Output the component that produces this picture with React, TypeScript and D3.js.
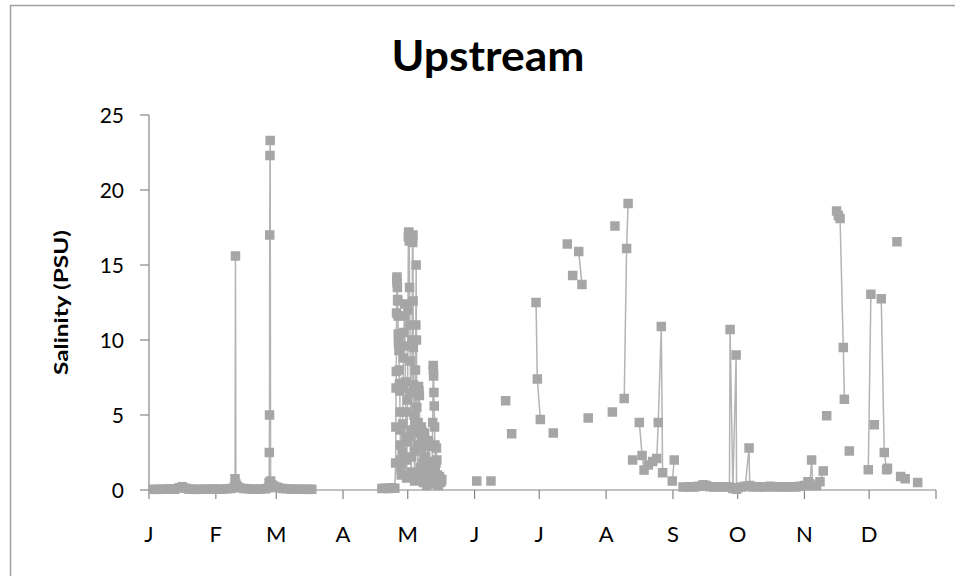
import React from "react";
import * as d3 from "d3";

// day-of-year (fractional) and salinity readings, one array per connected run
const janMarRun = [
  [2, 0.05], [4, 0.04], [6, 0.06], [8, 0.05], [10, 0.08], [12, 0.05], [14, 0.15], [15.5, 0.22],
  [17, 0.12], [18.5, 0.06], [20, 0.05], [22, 0.04], [24, 0.05], [26, 0.06], [28, 0.05], [30, 0.07],
  [32, 0.05], [34, 0.06], [36, 0.08], [38, 0.1], [39.6, 0.2], [39.9, 0.75], [40.1, 15.6], [40.3, 0.4],
  [41, 0.25], [42, 0.15], [44, 0.1], [46, 0.08], [48, 0.06], [50, 0.05], [52, 0.07], [54, 0.08],
  [55.4, 0.15], [55.7, 0.5], [55.8, 2.5], [55.9, 5.0], [56.0, 17.0], [56.1, 22.3], [56.2, 23.3],
  [56.4, 0.6], [57, 0.35], [58, 0.25], [59, 0.2], [60, 0.15], [62, 0.1], [64, 0.08], [66, 0.06],
  [68, 0.05], [70, 0.06], [72, 0.05], [74, 0.04], [75.5, 0.05],
];

const aprMayRun = [
  [108, 0.1], [109.5, 0.12], [111, 0.1], [112.5, 0.15], [114, 0.12],
  [114.4, 1.8], [114.5, 4.2], [114.6, 6.8], [114.7, 7.9], [114.8, 11.8], [114.9, 14.0], [115.0, 14.2],
  [115.1, 13.8], [115.2, 13.5], [115.3, 12.7], [115.4, 12.6], [115.5, 11.6], [115.6, 10.4], [115.7, 9.8],
  [115.8, 9.9], [115.9, 9.3], [116.0, 8.0], [116.1, 6.9], [116.2, 7.1], [116.3, 6.6], [116.4, 5.2],
  [116.5, 4.0], [116.6, 3.0], [116.7, 2.0], [116.85, 1.4], [117.0, 1.0], [117.2, 1.8], [117.4, 2.5],
  [117.6, 4.4], [117.8, 6.8], [118.0, 8.8], [118.2, 10.5], [118.4, 11.6], [118.6, 12.4], [118.75, 9.6],
  [118.9, 7.2], [119.05, 5.2], [119.2, 3.5], [119.35, 2.0], [119.5, 0.8], [119.7, 3.2], [119.9, 6.0],
  [120.1, 12.0], [120.3, 16.9], [120.4, 17.1], [120.5, 17.2], [120.6, 16.9], [120.7, 16.6],
  [120.85, 13.5], [121.0, 11.0], [121.15, 8.6], [121.3, 6.5], [121.45, 3.6], [121.6, 1.2], [121.75, 2.2],
  [121.9, 4.0], [122.05, 10.0], [122.2, 16.8], [122.3, 16.5], [122.4, 17.0], [122.5, 12.6], [122.6, 9.5],
  [122.75, 7.0], [122.9, 5.0], [123.05, 2.6], [123.2, 0.6], [123.4, 4.4], [123.6, 8.0], [123.75, 11.0],
  [123.9, 15.0], [124.05, 10.0], [124.2, 5.5], [124.4, 3.0], [124.6, 1.0], [124.8, 4.5], [125.0, 6.9],
  [125.2, 6.6], [125.4, 6.3], [125.6, 3.8], [125.8, 1.5], [126.05, 2.8], [126.3, 4.2], [126.55, 3.9],
  [126.8, 3.4], [127.05, 1.8], [127.3, 0.5], [127.55, 2.2], [127.8, 3.8], [128.05, 3.0], [128.3, 2.2],
  [128.55, 1.0], [128.8, 0.3], [129.05, 1.6], [129.3, 2.9], [129.55, 3.3], [129.8, 3.1], [130.05, 1.9],
  [130.3, 0.8], [130.55, 1.2], [130.8, 1.8], [131.05, 1.0], [131.3, 0.4], [131.55, 4.5], [131.8, 8.3],
  [131.9, 8.0], [132.0, 7.6], [132.15, 6.5], [132.3, 5.6], [132.45, 4.2], [132.6, 3.0], [132.75, 1.6],
  [132.9, 0.6], [133.1, 1.8], [133.3, 2.8], [133.5, 2.0], [133.7, 1.0], [133.95, 0.6], [134.2, 0.3],
  [134.45, 0.6], [134.7, 0.9], [134.95, 0.7], [135.2, 0.5], [135.5, 0.6], [135.8, 0.7],
];

const julyRun = [[179.5, 12.5], [180.1, 7.4], [181.5, 4.7]];
const lateJulyRun = [[199.3, 15.9], [200.8, 13.7]];
const earlyAugRun = [[220.4, 6.1], [221.5, 16.1], [222.2, 19.1]];
const midAugRun = [
  [227.4, 4.5], [228.7, 2.3], [229.6, 1.33], [231.6, 1.67], [233.6, 1.9], [235.5, 2.1],
  [236.2, 4.5], [237.6, 10.9], [238.2, 1.15],
];
const lateAugRun = [[242.7, 0.6], [243.6, 2.0]];

const sepOctRun = [
  [247.7, 0.2], [249.5, 0.2], [251, 0.22], [253, 0.2], [255, 0.25], [257, 0.35], [258.5, 0.3],
  [260, 0.22], [262, 0.2], [264, 0.2], [266, 0.22], [268, 0.2], [269.2, 0.2], [269.5, 10.7],
  [270.8, 0.1], [272.3, 9.0], [272.5, 0.05], [273.2, 0.15],
];
const octNovRun = [
  [275, 0.2], [276.5, 0.25], [278.3, 2.8], [278.6, 0.3], [280, 0.2], [282, 0.22], [284, 0.2],
  [286, 0.2], [288, 0.25], [290, 0.2], [292, 0.22], [294, 0.2], [296, 0.2], [298, 0.22],
  [300, 0.2], [302, 0.25], [304, 0.3], [305.6, 0.55], [306.5, 0.4], [307.3, 2.0], [307.9, 0.3],
  [309.6, 0.3], [311.2, 0.55], [312.7, 1.27],
];
const novRun = [[318.9, 18.6], [319.7, 18.3], [320.5, 18.1], [322.0, 9.5], [322.5, 6.05]];
const dec1Run = [[333.6, 1.35], [334.8, 13.05]];
const dec2Run = [[339.6, 12.75], [341.0, 2.5], [342.1, 1.35], [342.5, 1.45]];
const dec3Run = [[348.6, 0.9], [350.7, 0.75]];

// readings with no neighbour on either side
const singleReadings = [
  [152.0, 0.6], [158.6, 0.6], [165.4, 5.95], [168.2, 3.75], [187.5, 3.8], [194.0, 16.4],
  [196.5, 14.3], [203.7, 4.8], [214.9, 5.2], [216.1, 17.6], [224.3, 2.0], [314.3, 4.95],
  [324.8, 2.6], [336.4, 4.35], [346.9, 16.55], [356.5, 0.5],
];

const yTicks = [0, 5, 10, 15, 20, 25];
const monthLetters = ["J", "F", "M", "A", "M", "J", "J", "A", "S", "O", "N", "D"];

const runs = [
  janMarRun, aprMayRun, julyRun, lateJulyRun, earlyAugRun, midAugRun, lateAugRun,
  sepOctRun, octNovRun, novRun, dec1Run, dec2Run, dec3Run,
  ...singleReadings.map((p) => [p]),
];

const yearStart = new Date(2009, 0, 1);
const yearEnd = new Date(2010, 0, 1);
const toDate = (doy: number) => new Date(yearStart.getTime() + doy * 864e5);

const font = "Lato, 'Open Sans', sans-serif";

export default function App() {
  const x = d3.scaleTime().domain([yearStart, yearEnd]).range([149, 936]);
  const y = d3.scaleLinear().domain([0, 25]).range([490, 115]);

  const line = d3
    .line<number[]>()
    .x((d) => x(toDate(d[0])))
    .y((d) => y(d[1]));

  const months = d3.timeMonth.range(yearStart, d3.timeDay.offset(yearEnd, 1));
  const axisColor = "#868686";
  const m = 9.5; // marker size

  return (
    <svg width={955} height={576} style={{ position: "absolute", left: 0, top: 0, background: "#fff" }}>
      <rect x={10.5} y={5.5} width={960} height={600} fill="#fff" stroke="#a0a0a0" strokeWidth={1.5} />

      <text x={488} y={71} textAnchor="middle" fontFamily={font} fontWeight="bold" fontSize={42}
        textLength={193} lengthAdjust="spacingAndGlyphs" fill="#000">
        Upstream
      </text>

      <text transform={`translate(68,${(y(0) + y(25)) / 2}) rotate(-90)`} textAnchor="middle"
        fontFamily={font} fontWeight="bold" fontSize={18} textLength={145} lengthAdjust="spacingAndGlyphs" fill="#000">
        Salinity (PSU)
      </text>

      {/* y axis */}
      <line x1={149} x2={149} y1={y(25)} y2={y(0)} stroke={axisColor} strokeWidth={1.2} />
      {yTicks.map((t) => (
        <g key={t}>
          <line x1={140} x2={149} y1={y(t)} y2={y(t)} stroke={axisColor} strokeWidth={1.2} />
          <text x={124} y={y(t) + 7.5} textAnchor="end" fontFamily={font} fontSize={21} fill="#000">
            {t}
          </text>
        </g>
      ))}

      {/* x axis */}
      <line x1={x(yearStart)} x2={x(yearEnd)} y1={y(0)} y2={y(0)} stroke={axisColor} strokeWidth={1.2} />
      {months.map((d, i) => (
        <g key={i}>
          <line x1={x(d)} x2={x(d)} y1={y(0)} y2={y(0) + 9} stroke={axisColor} strokeWidth={1.2} />
          {i < 12 && (
            <text x={x(d)} y={542} textAnchor="middle" fontFamily={font} fontSize={22} fill="#000">
              {monthLetters[i]}
            </text>
          )}
        </g>
      ))}

      {/* series */}
      {runs.map((r, i) =>
        r.length > 1 ? (
          <path key={"l" + i} d={line(r) || ""} fill="none" stroke="#b4b4b4" strokeWidth={1.5} />
        ) : null
      )}
      {runs.map((r, i) => (
        <g key={"p" + i}>
          {r.map((d, j) => (
            <rect key={j} x={x(toDate(d[0])) - m / 2} y={y(d[1]) - m / 2} width={m} height={m}
              fill="#a6a6a6" />
          ))}
        </g>
      ))}
    </svg>
  );
}
